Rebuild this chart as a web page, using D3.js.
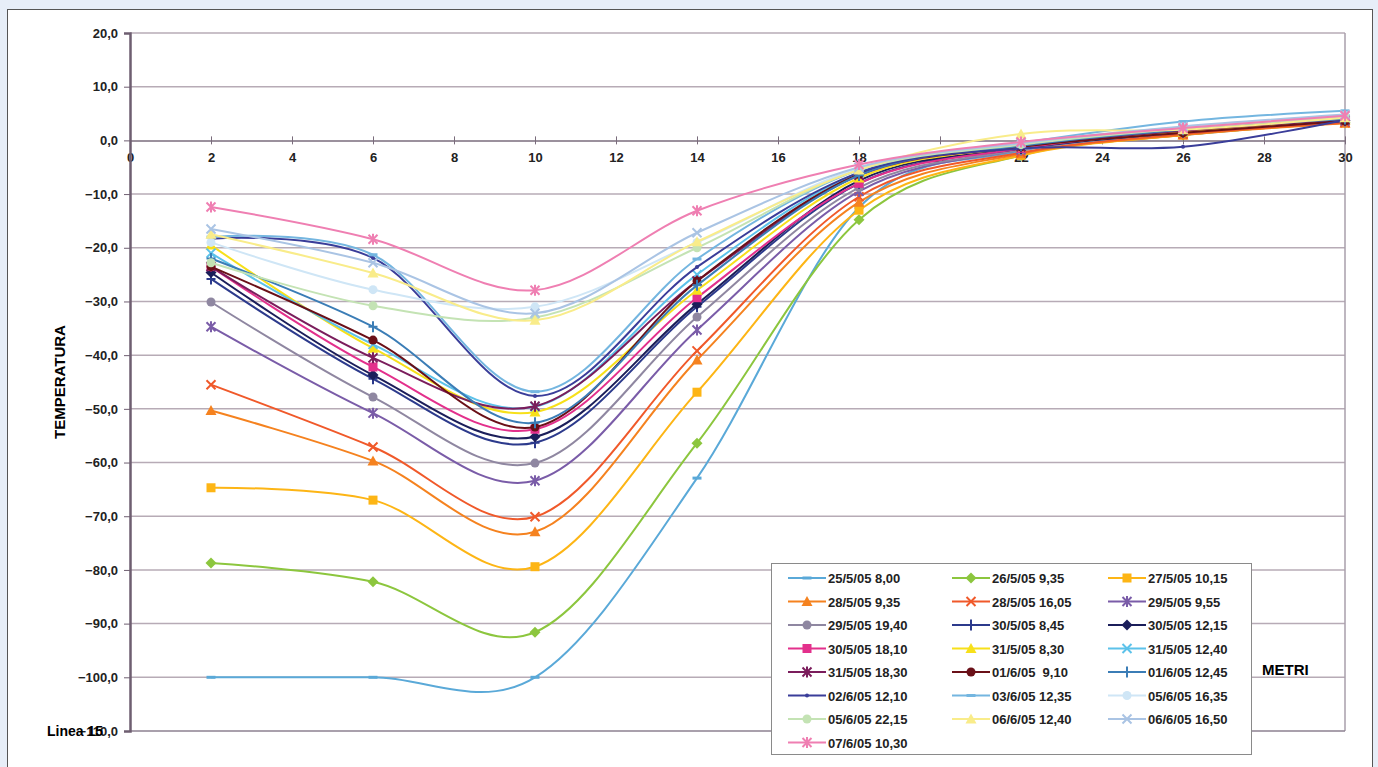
<!DOCTYPE html>
<html>
<head>
<meta charset="utf-8">
<script src="https://cdn.jsdelivr.net/npm/d3@7"></script>
<style>
  body { margin: 0; background: #e7eef8; }
  svg { display: block; }
</style>
</head>
<body>
<div id="canevas"></div>
<script>
// ---------------------------------------------------------------- dati
let metri = [2, 6, 10, 14, 18, 22, 26, 30];

let etichette = [
  "25/5/05 8,00", "26/5/05 9,35", "27/5/05 10,15",
  "28/5/05 9,35", "28/5/05 16,05", "29/5/05 9,55",
  "29/5/05 19,40", "30/5/05 8,45", "30/5/05 12,15",
  "30/5/05 18,10", "31/5/05 8,30", "31/5/05 12,40",
  "31/5/05 18,30", "01/6/05  9,10", "01/6/05 12,45",
  "02/6/05 12,10", "03/6/05 12,35", "05/6/05 16,35",
  "05/6/05 22,15", "06/6/05 12,40", "06/6/05 16,50",
  "07/6/05 10,30"
];

let s_25_0800 = [-100, -100, -100, -62.9, -12.5, -2.0, 1.0, 3.5];
let s_26_0935 = [-78.7, -82.2, -91.6, -56.4, -14.8, -2.8, 1.0, 3.3];
let s_27_1015 = [-64.7, -67.0, -79.4, -46.9, -13.0, -2.8, 1.0, 3.3];
let s_28_0935 = [-50.3, -59.7, -72.9, -40.9, -11.5, -2.5, 1.0, 3.2];
let s_28_1605 = [-45.5, -57.1, -70.1, -39.2, -10.5, -2.3, 1.2, 3.3];
let s_29_0955 = [-34.7, -50.8, -63.4, -35.3, -9.5, -1.8, 1.5, 3.6];
let s_29_1940 = [-30.1, -47.8, -60.1, -32.9, -8.8, -1.8, 1.5, 3.6];
let s_30_0845 = [-25.8, -44.4, -56.3, -31.0, -8.0, -1.5, 1.6, 3.8];
let s_30_1215 = [-24.6, -43.7, -55.2, -30.5, -7.5, -1.5, 1.5, 3.7];
let s_30_1810 = [-23.5, -42.2, -53.8, -29.3, -8.0, -1.5, 1.8, 3.8];
let s_31_0830 = [-19.5, -38.7, -50.6, -27.9, -7.0, -1.2, 1.5, 3.8];
let s_31_1240 = [-21.0, -38.0, -49.6, -25.0, -6.0, -1.0, 2.0, 4.0];
let s_31_1830 = [-23.5, -40.5, -49.5, -26.2, -6.5, -1.2, 1.8, 3.8];
let s_01_0910 = [-23.5, -37.2, -53.4, -26.2, -6.3, -1.2, 1.4, 3.6];
let s_01_1245 = [-22.0, -34.7, -52.6, -27.0, -6.5, -1.0, 2.0, 4.0];
let s_02_1210 = [-18.3, -21.9, -47.6, -23.6, -6.0, -1.5, -1.2, 3.8];
let s_03_1235 = [-18.0, -21.3, -46.8, -22.1, -5.5, -0.5, 3.5, 5.5];
let s_05_1635 = [-19.0, -27.8, -31.0, -19.0, -5.2, -0.5, 2.5, 4.6];
let s_05_2215 = [-22.8, -30.8, -33.0, -20.0, -5.5, -0.8, 2.2, 4.3];
let s_06_1240 = [-17.5, -24.7, -33.5, -18.9, -5.5, 1.2, 2.0, 4.2];
let s_06_1650 = [-16.5, -22.8, -32.2, -17.2, -5.0, -0.5, 2.6, 4.8];
let s_07_1030 = [-12.4, -18.4, -27.9, -13.1, -4.5, -0.3, 2.3, 4.6];

let serie = [
  s_25_0800, s_26_0935, s_27_1015, s_28_0935, s_28_1605, s_29_0955,
  s_29_1940, s_30_0845, s_30_1215, s_30_1810, s_31_0830, s_31_1240,
  s_31_1830, s_01_0910, s_01_1245, s_02_1210, s_03_1235, s_05_1635,
  s_05_2215, s_06_1240, s_06_1650, s_07_1030
];

let tickY = [20, 10, 0, -10, -20, -30, -40, -50, -60, -70, -80, -90, -100, -110];
let tickX = [0, 2, 4, 6, 8, 10, 12, 14, 16, 18, 20, 22, 24, 26, 28, 30];

// ---------------------------------------------------------------- stili
let colori = [
  "#5aa9d8", "#8cc63e", "#fdb515", "#f5821f", "#f0592a", "#7a5ca8",
  "#8f87a1", "#2c3a8c", "#1b1e5a", "#e3308c", "#f7e01a", "#5cc2ea",
  "#7b1d5c", "#6a1018", "#3b7db6", "#3a3d99", "#74b6e0", "#cfe6f6",
  "#c4e3b4", "#f9ec8a", "#aac4e4", "#ef7fb2"
];
let marcatori = [
  "dash", "diamond", "square", "triangle", "x", "star",
  "circle", "plus", "diamond", "square", "triangle", "x",
  "star", "circle", "plus", "dot", "dash", "circle",
  "circle", "triangle", "x", "star"
];

// ---------------------------------------------------------------- canevas
let largeur = 1378;
let hauteur = 767;

let canevas = d3.select("#canevas")
  .append("svg")
  .attr("width", largeur)
  .attr("height", hauteur)
  .style("font-family", "'Liberation Sans', Arial, sans-serif");

canevas.append("rect")
  .attr("x", 7.5).attr("y", 9.5)
  .attr("width", 1365).attr("height", 770)
  .attr("fill", "#ffffff")
  .attr("stroke", "#555555");

let echelleX = d3.scaleLinear().domain([0, 30]).range([130, 1345]);
let echelleY = d3.scaleLinear().domain([-110, 20]).range([731, 33]);

// griglia orizzontale
canevas.append("g")
  .selectAll("line")
  .data(tickY.filter(d => d != 0 && d != -110))
  .enter()
  .append("line")
  .attr("x1", echelleX(0)).attr("x2", echelleX(30))
  .attr("y1", d => echelleY(d)).attr("y2", d => echelleY(d))
  .attr("stroke", "#b7abb6")
  .attr("stroke-width", 1.5);

// bordo destro e basso dell'area
canevas.append("line")
  .attr("x1", echelleX(30)).attr("x2", echelleX(30))
  .attr("y1", echelleY(20)).attr("y2", echelleY(-110))
  .attr("stroke", "#a99fab").attr("stroke-width", 1.5);
canevas.append("line")
  .attr("x1", echelleX(0)).attr("x2", echelleX(30))
  .attr("y1", echelleY(-110)).attr("y2", echelleY(-110))
  .attr("stroke", "#8d8090").attr("stroke-width", 1.5);

// asse X sullo zero
let asseX = d3.axisBottom(echelleX)
  .tickValues(tickX)
  .tickSize(0)
  .tickPadding(12)
  .tickFormat(d => d);
let gX = canevas.append("g")
  .attr("transform", "translate(0," + echelleY(0) + ")")
  .call(asseX);
gX.select(".domain").attr("stroke", "#7a6c7c").attr("stroke-width", 1.5);
gX.selectAll(".tick line").remove();
gX.selectAll(".tick").append("line")
  .attr("y1", -4).attr("y2", 4)
  .attr("stroke", "#7a6c7c");
gX.selectAll("text")
  .attr("font-size", 13).attr("font-weight", "bold").attr("fill", "#222");

// asse Y
let asseY = d3.axisLeft(echelleY)
  .tickValues(tickY)
  .tickSize(6)
  .tickPadding(6)
  .tickFormat(d => d3.format(".1f")(d).replace(".", ","));
let gY = canevas.append("g")
  .attr("transform", "translate(" + echelleX(0) + ",0)")
  .call(asseY);
gY.select(".domain").attr("stroke", "#6e5e70").attr("stroke-width", 2.5);
gY.selectAll(".tick line").attr("stroke", "#6e5e70");
gY.selectAll("text")
  .attr("font-size", 13).attr("font-weight", "bold").attr("fill", "#222");

// ---------------------------------------------------------------- linee
let linea = d3.line()
  .x((d, i) => echelleX(metri[i]))
  .y(d => echelleY(d))
  .curve(d3.curveCatmullRom.alpha(0));

function marcatore(g, tipo, cx, cy, colore) {
  let s = 4.5;
  if (tipo == "square") {
    g.append("rect").attr("x", cx - s).attr("y", cy - s)
      .attr("width", 2 * s).attr("height", 2 * s).attr("fill", colore);
  } else if (tipo == "diamond") {
    g.append("path").attr("d", `M${cx},${cy - s - 1}L${cx + s + 1},${cy}L${cx},${cy + s + 1}L${cx - s - 1},${cy}Z`)
      .attr("fill", colore);
  } else if (tipo == "triangle") {
    g.append("path").attr("d", `M${cx},${cy - s - 1}L${cx + s + 1},${cy + s}L${cx - s - 1},${cy + s}Z`)
      .attr("fill", colore);
  } else if (tipo == "circle") {
    g.append("circle").attr("cx", cx).attr("cy", cy).attr("r", s).attr("fill", colore);
  } else if (tipo == "dot") {
    g.append("circle").attr("cx", cx).attr("cy", cy).attr("r", 2).attr("fill", colore);
  } else if (tipo == "dash") {
    g.append("line").attr("x1", cx - s).attr("x2", cx + s).attr("y1", cy).attr("y2", cy)
      .attr("stroke", colore).attr("stroke-width", 3);
  } else {
    let d = "";
    if (tipo == "x" || tipo == "star")
      d += `M${cx - s},${cy - s}L${cx + s},${cy + s}M${cx - s},${cy + s}L${cx + s},${cy - s}`;
    if (tipo == "plus" || tipo == "star")
      d += `M${cx},${cy - s - 1}L${cx},${cy + s + 1}`;
    if (tipo == "plus")
      d += `M${cx - s},${cy}L${cx + s},${cy}`;
    g.append("path").attr("d", d).attr("stroke", colore).attr("stroke-width", 2).attr("fill", "none");
  }
}

let gSerie = canevas.append("g");
serie.forEach(function (valori, k) {
  let g = gSerie.append("g");
  g.append("path")
    .datum(valori)
    .attr("d", linea)
    .attr("fill", "none")
    .attr("stroke", colori[k])
    .attr("stroke-width", 2);
  valori.forEach(function (v, i) {
    marcatore(g, marcatori[k], echelleX(metri[i]), echelleY(v), colori[k]);
  });
});

// ---------------------------------------------------------------- testi
canevas.append("text")
  .attr("transform", "translate(65,382) rotate(-90)")
  .attr("text-anchor", "middle")
  .attr("font-size", 15).attr("font-weight", "bold")
  .text("TEMPERATURA");

canevas.append("text")
  .attr("x", 1262).attr("y", 675)
  .attr("font-size", 15).attr("font-weight", "bold")
  .text("METRI");

canevas.append("text")
  .attr("x", 47).attr("y", 736)
  .attr("font-size", 14).attr("font-weight", "bold")
  .text("Linea 15");

// ---------------------------------------------------------------- legenda
let legenda = canevas.append("g");
legenda.append("rect")
  .attr("x", 771.5).attr("y", 563.5)
  .attr("width", 480).attr("height", 191)
  .attr("fill", "#ffffff")
  .attr("stroke", "#8a8a8a");

let colX = [788, 952, 1108];
etichette.forEach(function (nome, k) {
  let cx = colX[k % 3];
  let cy = 578 + Math.floor(k / 3) * 23.5;
  legenda.append("line")
    .attr("x1", cx).attr("x2", cx + 38)
    .attr("y1", cy).attr("y2", cy)
    .attr("stroke", colori[k]).attr("stroke-width", 2);
  marcatore(legenda, marcatori[k], cx + 19, cy, colori[k]);
  legenda.append("text")
    .attr("x", cx + 40).attr("y", cy + 5)
    .attr("font-size", 13).attr("font-weight", "bold")
    .attr("fill", "#222")
    .attr("xml:space", "preserve")
    .style("white-space", "pre")
    .text(nome);
});
</script>
</body>
</html>
